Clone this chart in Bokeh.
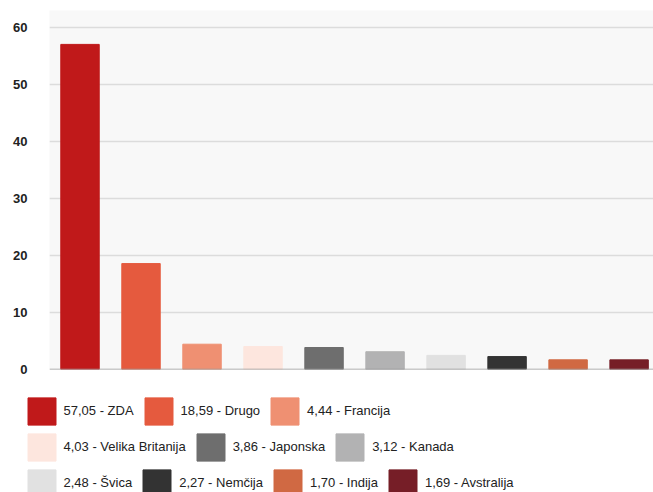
from bokeh.plotting import figure
from bokeh.models import ColumnDataSource, Range1d, FixedTicker, Legend, LegendItem, Span
from bokeh.embed import file_html
from bokeh.resources import INLINE
import numpy as np

countries = ["ZDA", "Drugo", "Francija", "Velika Britanija", "Japonska",
             "Kanada", "Švica", "Nemčija", "Indija", "Avstralija"]
values = [57.05, 18.59, 4.44, 4.03, 3.86, 3.12, 2.48, 2.27, 1.70, 1.69]
colors = ["#C0191A", "#E55A3E", "#EF9072", "#FDE6DE", "#6E6E6E",
          "#B2B2B3", "#E1E1E1", "#333333", "#D06943", "#761E27"]
yticks = [0, 10, 20, 30, 40, 50, 60]
legend_rows = [3, 3, 4]

labels = [f"{v:.2f}".replace(".", ",") + " - " + c for v, c in zip(values, countries)]
xs = np.arange(len(values)) + 0.5

src = ColumnDataSource(dict(x=xs, top=values, color=colors, label=labels))

p = figure(width=653, height=377, output_backend="svg", toolbar_location=None,
           x_range=Range1d(0, 9.9), y_range=Range1d(0, 63),
           x_axis_location=None, y_axis_location="left",
           min_border_left=49, min_border_right=0, min_border_top=10, min_border_bottom=8)
p.outline_line_color = None
p.background_fill_color = "#F8F8F8"
p.border_fill_color = "white"

r = p.vbar(x="x", top="top", width=0.63, bottom=0, source=src,
           fill_color="color", line_color="color")

p.xgrid.visible = False
p.ygrid.ticker = FixedTicker(ticks=yticks)
p.ygrid.grid_line_color = "#DCDCDC"
p.ygrid.grid_line_width = 1.5

yax = p.yaxis[0]
yax.ticker = FixedTicker(ticks=yticks)
yax.axis_line_color = None
yax.major_tick_line_color = None
yax.minor_tick_line_color = None
yax.major_tick_out = 0
yax.major_tick_in = 0
yax.major_label_standoff = 22
yax.major_label_text_font = "Liberation Sans"
yax.major_label_text_font_size = "13px"
yax.major_label_text_font_style = "bold"
yax.major_label_text_color = "#222222"

p.add_layout(Span(location=0, dimension="width", line_color="#999999", line_width=1.5))

# legend panel below the chart
lp = figure(width=653, height=115, output_backend="svg", toolbar_location=None,
            x_range=Range1d(0, 1), y_range=Range1d(100, 200),
            x_axis_location=None, y_axis_location=None,
            min_border_left=0, min_border_right=0, min_border_top=0, min_border_bottom=0)
lp.outline_line_color = None
lp.background_fill_color = "white"
lp.border_fill_color = "white"
lp.xgrid.visible = False
lp.ygrid.visible = False
lr = lp.vbar(x="x", top="top", width=0.63, bottom=0, source=src,
             fill_color="color", line_color="color")

row_y = [64.5, 28.5, -7.5]
start = 0
for n, ly in zip(legend_rows, row_y):
    items = [LegendItem(label=labels[i], renderers=[lr], index=i) for i in range(start, start + n)]
    start += n
    lg = Legend(items=items, orientation="horizontal", location=(23.5, ly),
                glyph_width=35, glyph_height=34, label_standoff=5, spacing=7,
                padding=0, margin=0, border_line_color=None, background_fill_alpha=0,
                label_text_font="Liberation Sans", label_text_font_size="13px",
                label_text_color="#222222", label_height=34)
    lp.add_layout(lg, "center")

open("out.html", "w").write(file_html([p, lp], INLINE))
